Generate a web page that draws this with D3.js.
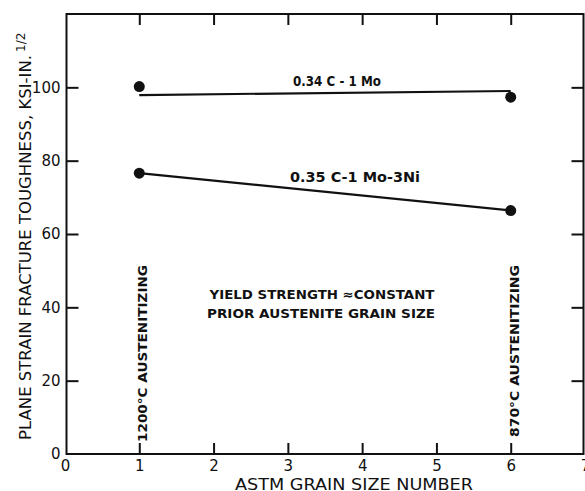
<!DOCTYPE html>
<html lang="en">
<head>
    <meta charset="UTF-8">
    <title>Fracture toughness vs grain size</title>
    <script src="https://d3js.org/d3.v7.min.js"></script>
    <style>
        body { margin: 0; background: #fff; }
        svg text { font-family: "DejaVu Sans", Arial, sans-serif; fill: #111; }
    </style>
</head>
<body>
    <svg width="585" height="491"></svg>

    <script>
        // data
        const grainSize = [1, 6];
        const moPoints = [100.2, 97.3];       // 0.34C-1Mo measured
        const moLine = [97.9, 99.0];          // 0.34C-1Mo drawn line
        const niPoints = [76.6, 66.4];        // 0.35C-1Mo-3Ni measured
        const niLine = [76.6, 66.4];
        const xTicks = [0, 1, 2, 3, 4, 5, 6, 7];
        const yTicks = [0, 20, 40, 60, 80, 100];

        const svg = d3.select("svg");
        const x = d3.scaleLinear().domain([0, 7]).range([65, 585]);
        const y = d3.scaleLinear().domain([0, 120]).range([454, 14]);

        const ink = "#111";

        // frame
        svg.append("rect")
            .attr("x", x(0) + 1.5).attr("y", y(120))
            .attr("width", x(7) - x(0) - 3).attr("height", y(0) - y(120))
            .attr("fill", "none").attr("stroke", ink).attr("stroke-width", 2);

        // bottom axis: ticks inward, labels below
        const bottomAxis = svg.append("g").attr("transform", `translate(0,${y(0)})`)
            .call(d3.axisBottom(x).tickValues(xTicks).tickFormat(d3.format("d"))
                .tickSize(-11).tickPadding(6).tickSizeOuter(0));
        bottomAxis.select(".domain").remove();
        bottomAxis.selectAll(".tick line").attr("stroke", ink).attr("stroke-width", 2)
            .filter(d => d === 0 || d === 7).remove();
        bottomAxis.selectAll(".tick text").attr("font-size", 15);

        // top ticks
        const topAxis = svg.append("g").attr("transform", `translate(0,${y(120)})`)
            .call(d3.axisTop(x).tickValues([1, 2, 3, 4, 5, 6]).tickSize(-11).tickFormat(""));
        topAxis.select(".domain").remove();
        topAxis.selectAll(".tick line").attr("stroke", ink).attr("stroke-width", 2);

        // left axis
        const leftAxis = svg.append("g").attr("transform", `translate(${x(0) + 1.5},0)`)
            .call(d3.axisLeft(y).tickValues(yTicks).tickSize(-12).tickPadding(6));
        leftAxis.select(".domain").remove();
        leftAxis.selectAll(".tick line").attr("stroke", ink).attr("stroke-width", 2)
            .filter(d => d === 0).remove();
        leftAxis.selectAll(".tick text").attr("font-size", 15).attr("x", -6);

        // right ticks
        const rightAxis = svg.append("g").attr("transform", `translate(${x(7) - 1.5},0)`)
            .call(d3.axisRight(y).tickValues([20, 40, 60, 80, 100]).tickSize(-12).tickFormat(""));
        rightAxis.select(".domain").remove();
        rightAxis.selectAll(".tick line").attr("stroke", ink).attr("stroke-width", 2);

        // lines
        const line = d3.line().x(d => x(d[0])).y(d => y(d[1]));
        svg.append("path")
            .datum(grainSize.map((g, i) => [g, moLine[i]]))
            .attr("d", line).attr("fill", "none").attr("stroke", ink).attr("stroke-width", 2.2);
        svg.append("path")
            .datum(grainSize.map((g, i) => [g, niLine[i]]))
            .attr("d", line).attr("fill", "none").attr("stroke", ink).attr("stroke-width", 2.2);

        // points
        const pts = grainSize.map((g, i) => [g, moPoints[i]])
            .concat(grainSize.map((g, i) => [g, niPoints[i]]));
        svg.selectAll("circle.pt").data(pts).enter().append("circle")
            .attr("class", "pt")
            .attr("cx", d => x(d[0])).attr("cy", d => y(d[1]))
            .attr("r", 5.5).attr("fill", ink);

        // series labels
        svg.append("text").attr("x", 337).attr("y", 86)
            .attr("text-anchor", "middle").attr("font-size", 14).attr("font-weight", "bold")
            .attr("textLength", 88).attr("lengthAdjust", "spacingAndGlyphs")
            .text("0.34 C - 1 Mo");
        svg.append("text").attr("x", 355).attr("y", 182)
            .attr("text-anchor", "middle").attr("font-size", 14).attr("font-weight", "bold")
            .attr("textLength", 130).attr("lengthAdjust", "spacingAndGlyphs")
            .text("0.35 C-1 Mo-3Ni");

        // annotation
        svg.append("text").attr("x", 322).attr("y", 299)
            .attr("text-anchor", "middle").attr("font-size", 12.5).attr("font-weight", "bold")
            .attr("textLength", 225).attr("lengthAdjust", "spacingAndGlyphs")
            .text("YIELD STRENGTH \u2248CONSTANT");
        svg.append("text").attr("x", 321).attr("y", 318)
            .attr("text-anchor", "middle").attr("font-size", 12.5).attr("font-weight", "bold")
            .attr("textLength", 228).attr("lengthAdjust", "spacingAndGlyphs")
            .text("PRIOR AUSTENITE GRAIN SIZE");

        // vertical austenitizing labels
        const vlabels = [
            { g: 1, text: "1200\u00B0C AUSTENITIZING", len: 177, bottom: 442 },
            { g: 6, text: "870\u00B0C AUSTENITIZING", len: 172, bottom: 437 }
        ];
        svg.selectAll("text.vl").data(vlabels).enter().append("text")
            .attr("class", "vl")
            .attr("transform", d => `translate(${x(d.g) + 8},${d.bottom}) rotate(-90)`)
            .attr("font-size", 12).attr("font-weight", "bold")
            .attr("textLength", d => d.len).attr("lengthAdjust", "spacingAndGlyphs")
            .text(d => d.text);

        // axis titles
        svg.append("text").attr("x", 354).attr("y", 490)
            .attr("text-anchor", "middle").attr("font-size", 15)
            .attr("textLength", 238).attr("lengthAdjust", "spacingAndGlyphs")
            .text("ASTM GRAIN SIZE NUMBER");

        const yTitle = svg.append("text")
            .attr("transform", "translate(31,440) rotate(-90)")
            .attr("font-size", 15);
        yTitle.append("tspan")
            .attr("textLength", 385).attr("lengthAdjust", "spacingAndGlyphs")
            .text("PLANE STRAIN FRACTURE TOUGHNESS, KSI-IN.");
        yTitle.append("tspan").attr("dx", 3).attr("dy", -6).attr("font-size", 12).text("1/2");
    </script>
</body>
</html>
